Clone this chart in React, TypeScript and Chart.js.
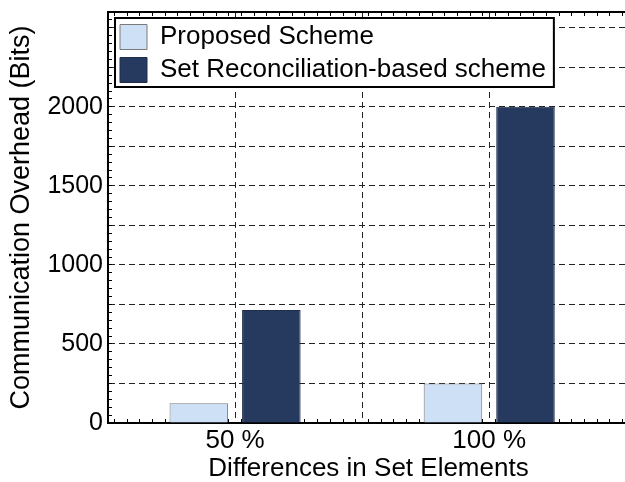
import React, { useEffect, useRef } from 'react';
import { Chart, registerables } from 'chart.js';

Chart.register(...registerables);

// ---- data ----
const categories = ['50 %', '100 %'];
const seriesNames = ['Proposed Scheme', 'Set Reconciliation-based scheme'];
const proposedScheme = [125, 250];
const setReconScheme = [715, 2000];
const yTickLabels = ['0', '500', '1000', '1500', '2000'];
const yMax = 2600;
const yGridStep = 250;
const yMinorStep = 50;
const xMin = 0.5;
const xMax = 2.55;
const xMinorStep = 0.05;

const FONT = "'Liberation Sans', Arial, Helvetica, sans-serif";

export default function App() {
  const ref = useRef<HTMLCanvasElement>(null);

  useEffect(() => {
    if (!ref.current) return;
    Chart.defaults.font.family = FONT;
    Chart.defaults.color = '#000';

    const legendFrame = {
      id: 'legendFrame',
      afterLayout(chart: any) {
        const lg = chart.legend;
        const ca = chart.chartArea;
        if (!lg || !ca) return;
        const w = lg.width;
        const h = lg.height;
        lg.left = ca.left + 5;
        lg.right = lg.left + w;
        lg.top = ca.top + 5;
        lg.bottom = lg.top + h;
      },
      afterDraw(chart: any) {
        const lg = chart.legend;
        if (!lg || !lg.legendHitBoxes || !lg.legendHitBoxes.length) return;
        const hb = lg.legendHitBoxes;
        const l = Math.min(...hb.map((b: any) => b.left)) - 5;
        const t = Math.min(...hb.map((b: any) => b.top)) - 6;
        const r = Math.max(...hb.map((b: any) => b.left + b.width)) + 8;
        const bt = Math.max(...hb.map((b: any) => b.top + b.height)) + 4;
        const ctx = chart.ctx;
        ctx.save();
        ctx.fillStyle = '#ffffff';
        ctx.fillRect(l, t, r - l, bt - t);
        ctx.lineWidth = 2;
        ctx.strokeStyle = '#000';
        ctx.strokeRect(l, t, r - l, bt - t);
        ctx.restore();
        lg.draw();
      },
    };

    const chart = new Chart(ref.current, {
      type: 'bar',
      data: {
        datasets: [
          {
            label: seriesNames[0],
            data: categories.map((_, i) => ({ x: i + 1, y: proposedScheme[i] })),
            backgroundColor: '#cde0f5',
            borderColor: '#7a7a7a',
            borderWidth: 1,
            categoryPercentage: 1.1417,
            barPercentage: 0.807,
          },
          {
            label: seriesNames[1],
            data: categories.map((_, i) => ({ x: i + 1, y: setReconScheme[i] })),
            backgroundColor: '#263a5f',
            borderColor: '#1f2d48',
            borderWidth: 1,
            categoryPercentage: 1.1417,
            barPercentage: 0.807,
          },
        ],
      },
      options: {
        animation: false,
        responsive: false,
        maintainAspectRatio: false,
        devicePixelRatio: 1,
        layout: { padding: { left: 0, top: 12, right: 11, bottom: 0 } },
        plugins: {
          tooltip: { enabled: false },
          legend: {
            position: 'chartArea',
            align: 'start',
            labels: {
              font: { size: 26, family: FONT },
              color: '#000',
              boxWidth: 27,
              boxHeight: 25,
              padding: 7,
            },
          },
        },
        scales: {
          x: {
            type: 'linear',
            position: 'bottom',
            min: xMin,
            max: xMax,
            offset: false,
            afterBuildTicks: (s: any) => {
              const t: any[] = [];
              categories.forEach((_, i) => {
                if (i > 0) t.push({ value: i + 0.5 });
                t.push({ value: i + 1 });
              });
              s.ticks = t;
            },
            afterFit: (s: any) => {
              s.height = 59;
              s.paddingLeft = 0;
              s.paddingRight = 0;
            },
            ticks: {
              autoSkip: false,
              maxRotation: 0,
              padding: 2,
              color: '#000',
              font: { size: 26, family: FONT },
              callback: (v: any) => {
                const i = Number(v) - 1;
                return Number.isInteger(i) && categories[i] ? categories[i] : '';
              },
            },
            grid: { color: '#222', lineWidth: 1, drawTicks: false, offset: false },
            border: { display: true, color: '#000', width: 2, dash: [6, 4] },
            title: {
              display: true,
              text: 'Differences in Set Elements',
              color: '#000',
              font: { size: 26, family: FONT, lineHeight: 1 },
              padding: { top: 0, bottom: 0 },
            },
          },
          xMinor: {
            type: 'linear',
            position: 'bottom',
            weight: -1,
            min: xMin,
            max: xMax,
            offset: false,
            afterFit: (s: any) => {
              s.height = 0;
              s.paddingLeft = 0;
              s.paddingRight = 0;
            },
            ticks: { display: false, stepSize: xMinorStep },
            grid: { drawOnChartArea: false, drawTicks: true, tickLength: -4, color: '#000', lineWidth: 1 },
            border: { display: false },
          },
          xTop: {
            type: 'linear',
            position: 'top',
            min: xMin,
            max: xMax,
            offset: false,
            afterFit: (s: any) => {
              s.height = 0;
              s.paddingLeft = 0;
              s.paddingRight = 0;
            },
            ticks: { display: false, stepSize: xMinorStep },
            grid: { drawOnChartArea: false, drawTicks: true, tickLength: -4, color: '#000', lineWidth: 1 },
            border: { display: true, color: '#000', width: 2 },
          },
          y: {
            type: 'linear',
            position: 'left',
            min: 0,
            max: yMax,
            afterFit: (s: any) => {
              s.width = 108;
              s.paddingTop = 0;
              s.paddingBottom = 0;
            },
            ticks: {
              stepSize: yGridStep,
              includeBounds: false,
              autoSkip: false,
              padding: 5,
              color: '#000',
              font: { size: 25, family: FONT },
              callback: (v: any) => (yTickLabels.includes(String(v)) ? String(v) : ''),
            },
            grid: { color: '#222', lineWidth: 1, drawTicks: false },
            border: { display: true, color: '#000', width: 2, dash: [6, 4] },
            title: {
              display: true,
              text: 'Communication Overhead (Bits)',
              color: '#000',
              font: { size: 27, family: FONT, lineHeight: 1 },
              padding: { top: 8, bottom: 0 },
            },
          },
          yMinor: {
            type: 'linear',
            position: 'left',
            weight: -1,
            min: 0,
            max: yMax,
            afterFit: (s: any) => {
              s.width = 0;
              s.paddingTop = 0;
              s.paddingBottom = 0;
            },
            ticks: { display: false, stepSize: yMinorStep },
            grid: { drawOnChartArea: false, drawTicks: true, tickLength: -4, color: '#000', lineWidth: 1 },
            border: { display: false },
          },
        },
      },
      plugins: [legendFrame],
    } as any);

    return () => chart.destroy();
  }, []);

  return (
    <div
      style={{
        position: 'fixed',
        left: 0,
        top: 0,
        width: 625,
        height: 482,
        overflow: 'hidden',
        background: '#fff',
      }}
    >
      <canvas ref={ref} width={640} height={482} style={{ display: 'block' }} />
    </div>
  );
}
